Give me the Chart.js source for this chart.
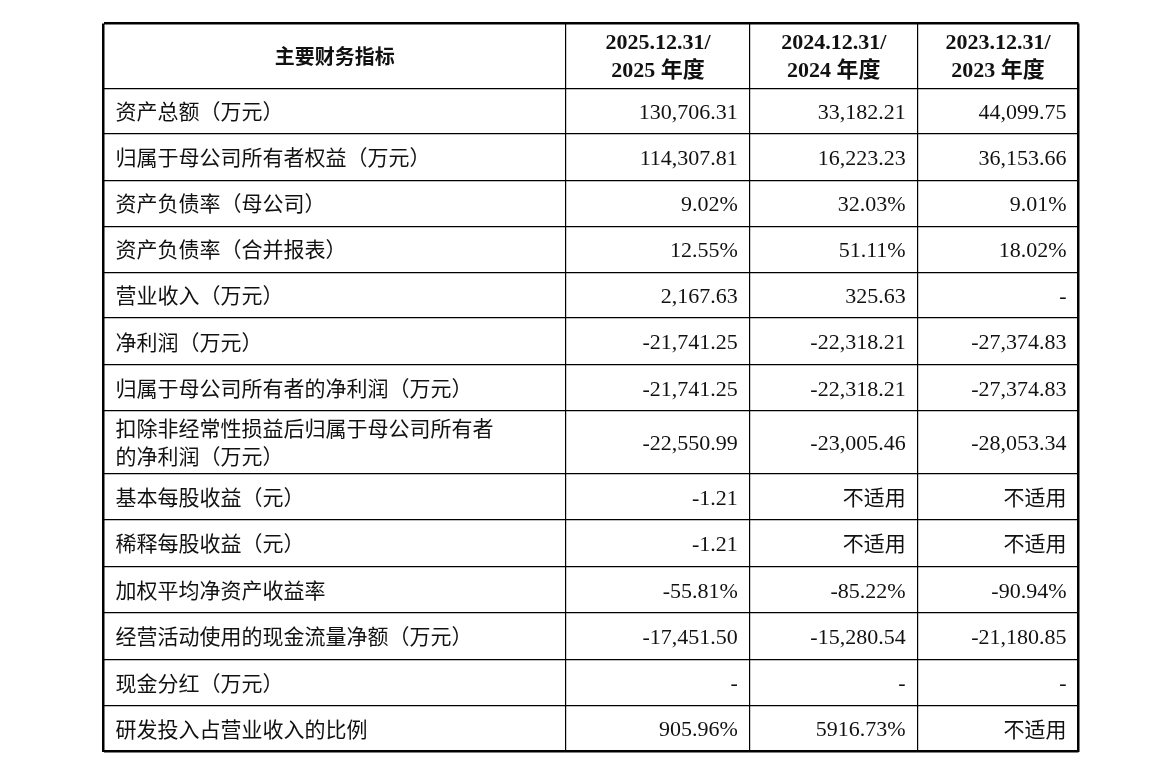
<!DOCTYPE html>
<html>
<head>
<meta charset="utf-8">
<script src="https://cdn.jsdelivr.net/npm/chart.js@4"></script>
<style>
  html, body { margin: 0; padding: 0; background: #fff; }
  #wrap { position: absolute; left: 102px; top: 22px; width: 978px; height: 731px; }
</style>
</head>
<body>
<div id="wrap"><canvas id="tableChart"></canvas></div>
<script>
// --- Data ---
const headers = ['主要财务指标', '2025.12.31/\n2025 年度', '2024.12.31/\n2024 年度', '2023.12.31/\n2023 年度'];
const rowLabels = [
    '资产总额（万元）',
    '归属于母公司所有者权益（万元）',
    '资产负债率（母公司）',
    '资产负债率（合并报表）',
    '营业收入（万元）',
    '净利润（万元）',
    '归属于母公司所有者的净利润（万元）',
    '扣除非经常性损益后归属于母公司所有者\n的净利润（万元）',
    '基本每股收益（元）',
    '稀释每股收益（元）',
    '加权平均净资产收益率',
    '经营活动使用的现金流量净额（万元）',
    '现金分红（万元）',
    '研发投入占营业收入的比例'
];
const values2025 = ['130,706.31', '114,307.81', '9.02%', '12.55%', '2,167.63', '-21,741.25', '-21,741.25',
    '-22,550.99', '-1.21', '-1.21', '-55.81%', '-17,451.50', '-', '905.96%'];
const values2024 = ['33,182.21', '16,223.23', '32.03%', '51.11%', '325.63', '-22,318.21', '-22,318.21',
    '-23,005.46', '不适用', '不适用', '-85.22%', '-15,280.54', '-', '5916.73%'];
const values2023 = ['44,099.75', '36,153.66', '9.01%', '18.02%', '-', '-27,374.83', '-27,374.83',
    '-28,053.34', '不适用', '不适用', '-90.94%', '-21,180.85', '-', '不适用'];

// --- Layout (table grid in axis units) ---
const colEdges = [0, 463, 647, 815, 976];
const rowEdges = [0, 65, 110, 157, 203, 249, 295, 342, 388, 451, 497, 544, 590, 637, 683, 729];

const cnFont = '"Noto Sans CJK SC", "Liberation Serif", serif';
const numFont = '"Liberation Serif", "DejaVu Serif", serif';
const headFont = '"Liberation Serif", "Noto Sans CJK SC", serif';

const cellText = {
    id: 'cellText',
    afterDraw(chart) {
        const { ctx, scales: { x, y } } = chart;
        ctx.save();
        ctx.fillStyle = '#111';
        ctx.textBaseline = 'middle';
        const columns = [rowLabels, values2025, values2024, values2023];
        function drawLines(text, px, cy, lh) {
            const lines = text.split('\n');
            lines.forEach((ln, i) => {
                ctx.fillText(ln, px, cy + (i - (lines.length - 1) / 2) * lh);
            });
        }
        // header
        ctx.textAlign = 'center';
        headers.forEach((h, c) => {
            ctx.font = c === 0 ? 'bold 20px ' + cnFont : 'bold 22px ' + headFont;
            const cx = (x.getPixelForValue(colEdges[c]) + x.getPixelForValue(colEdges[c + 1])) / 2;
            const cy = (y.getPixelForValue(rowEdges[0]) + y.getPixelForValue(rowEdges[1])) / 2;
            drawLines(h, cx, cy + (c === 0 ? 0 : 1), 28);
        });
        // body
        rowLabels.forEach((_, r) => {
            const cy = (y.getPixelForValue(rowEdges[r + 1]) + y.getPixelForValue(rowEdges[r + 2])) / 2;
            columns.forEach((col, c) => {
                const text = col[r];
                const isCn = /[\u4e00-\u9fff]/.test(text);
                ctx.font = isCn ? '21px ' + cnFont : '22px ' + numFont;
                const dy = isCn ? 0 : 2;
                if (c === 0) {
                    ctx.textAlign = 'left';
                    drawLines(text, x.getPixelForValue(colEdges[0]) + 12, cy, 28);
                } else {
                    ctx.textAlign = 'right';
                    drawLines(text, x.getPixelForValue(colEdges[c + 1]) - 12, cy + dy, 28);
                }
            });
        });
        ctx.restore();
    }
};

const edgeWidth = (edges) => (context) => {
    const v = context.tick && context.tick.value;
    return (v === edges[0] || v === edges[edges.length - 1]) ? 2.5 : 1.2;
};

new Chart(document.getElementById('tableChart').getContext('2d'), {
    type: 'scatter',
    data: { datasets: [{ data: [] }] },
    options: {
        responsive: true,
        maintainAspectRatio: false,
        animation: false,
        layout: { padding: 1.5 },
        plugins: { legend: { display: false }, tooltip: { enabled: false } },
        scales: {
            x: {
                type: 'linear', min: colEdges[0], max: colEdges[colEdges.length - 1],
                afterBuildTicks: (axis) => { axis.ticks = colEdges.map(v => ({ value: v })); },
                ticks: { display: false },
                grid: { color: '#000', lineWidth: edgeWidth(colEdges), drawTicks: false },
                border: { display: false }
            },
            y: {
                type: 'linear', reverse: true, min: rowEdges[0], max: rowEdges[rowEdges.length - 1],
                afterBuildTicks: (axis) => { axis.ticks = rowEdges.map(v => ({ value: v })); },
                ticks: { display: false },
                grid: { color: '#000', lineWidth: edgeWidth(rowEdges), drawTicks: false },
                border: { display: false }
            }
        }
    },
    plugins: [cellText]
});
</script>
</body>
</html>
